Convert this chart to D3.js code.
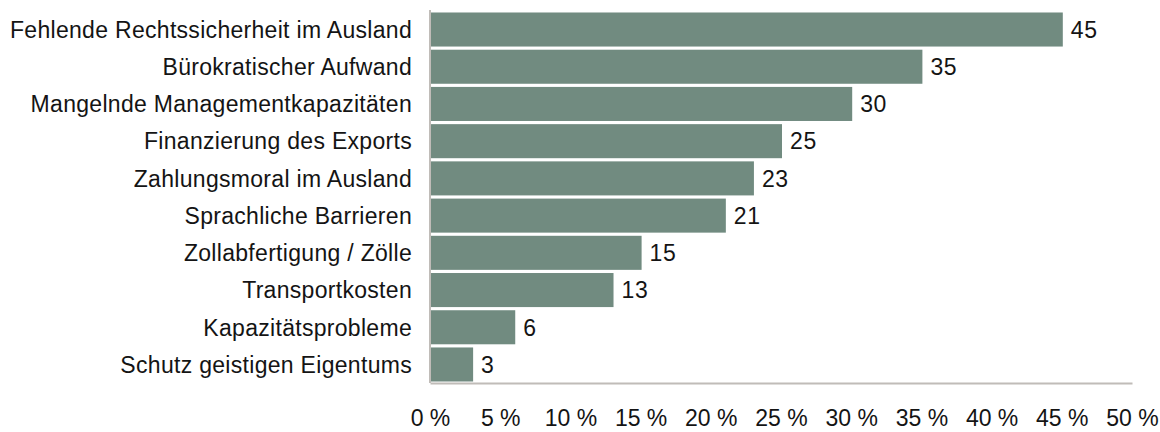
<!DOCTYPE html>
<html>
<head>
<meta charset="utf-8">
<script src="https://cdn.jsdelivr.net/npm/d3@7"></script>
<style>
  html, body { margin: 0; padding: 0; background: #fff; }
  svg { display: block; font-family: "Liberation Sans", Arial, sans-serif; }
</style>
</head>
<body>
<svg id="chart" width="1160" height="432"></svg>
<script>
// Hemmnisse im Exportgeschäft (Anteil der Nennungen in %)
const categories = [
  "Fehlende Rechtssicherheit im Ausland",
  "Bürokratischer Aufwand",
  "Mangelnde Managementkapazitäten",
  "Finanzierung des Exports",
  "Zahlungsmoral im Ausland",
  "Sprachliche Barrieren",
  "Zollabfertigung / Zölle",
  "Transportkosten",
  "Kapazitätsprobleme",
  "Schutz geistigen Eigentums"
];
const values = [45, 35, 30, 25, 23, 21, 15, 13, 6, 3];
const tickValues = [0, 5, 10, 15, 20, 25, 30, 35, 40, 45, 50];

const svg = d3.select("#chart");
const margin = { left: 430, right: 28, top: 10, bottom: 49 };
const W = 1160, H = 432;

const x = d3.scaleLinear().domain([0, 50]).range([margin.left, W - margin.right]);
const y = d3.scaleBand()
  .domain(categories)
  .range([margin.top + 1, H - margin.bottom])
  .paddingInner(0.085)
  .paddingOuter(0.04);

const fontSize = 23;
const barColor = "#718b80";
const axisColor = "#c0bcb8";
const textColor = "#141414";

// Balken
svg.append("g").selectAll("rect")
  .data(values)
  .join("rect")
  .attr("x", x(0) + 1)
  .attr("y", (d, i) => y(categories[i]))
  .attr("width", d => x(d) - x(0))
  .attr("height", y.bandwidth())
  .attr("fill", barColor);

// Werte am Balkenende
svg.append("g").selectAll("text")
  .data(values)
  .join("text")
  .attr("x", d => x(d) + 9)
  .attr("y", (d, i) => y(categories[i]) + y.bandwidth() / 2)
  .attr("dy", "0.36em")
  .attr("font-size", fontSize)
  .attr("letter-spacing", 0.6)
  .attr("fill", textColor)
  .text(d => d);

// Kategorienachse
const yAxis = svg.append("g")
  .attr("transform", `translate(${x(0)},0)`)
  .call(d3.axisLeft(y).tickSize(0).tickPadding(18));
yAxis.select(".domain").attr("stroke", axisColor).attr("stroke-width", 2)
  .attr("d", `M0,${margin.top}V${H - margin.bottom}`);
yAxis.selectAll("text").attr("font-size", fontSize).attr("fill", textColor)
  .attr("font-family", "inherit").attr("dy", "0.36em")
  .attr("letter-spacing", 0.3);

// Wertachse
const xAxis = svg.append("g")
  .attr("transform", `translate(0,${H - margin.bottom})`)
  .call(d3.axisBottom(x).tickValues(tickValues).tickSize(0).tickPadding(27)
    .tickFormat(d => d + " %"));
xAxis.select(".domain").attr("stroke", axisColor).attr("stroke-width", 2);
xAxis.selectAll("text").attr("font-size", fontSize).attr("fill", textColor)
  .attr("font-family", "inherit");
</script>
</body>
</html>
